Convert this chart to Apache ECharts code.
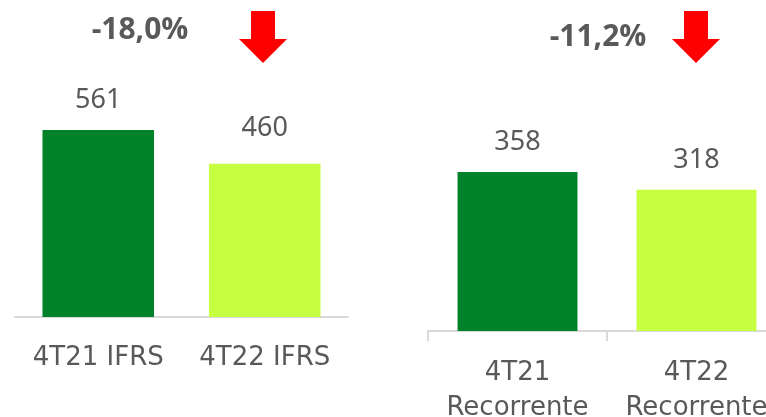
<!DOCTYPE html>
<html style="height: 100%">
<head>
    <meta charset="utf-8">
    <style>
        html, body {
            height: 100%;
            margin: 0;
            overflow: hidden;
            background: #fff;
        }
        #container {
            width: 766px;
            height: 417px;
        }
    </style>
</head>
<body>
<div id="container"></div>
<script src="https://cdn.jsdelivr.net/npm/echarts@6/dist/echarts.min.js"></script>
<script type="text/javascript">
// dados do grafico
var ifrsCategories = ['4T21 IFRS', '4T22 IFRS'];
var ifrsValues = [561, 460];
var recCategories = ['4T21\nRecorrente', '4T22\nRecorrente'];
var recValues = [358, 318];
var changeLabels = ['-18,0%', '-11,2%'];

var barColors = ['#00822A', '#C6FF42'];
var textGray = '#595959';

function toBarData(values, extraDist) {
    return values.map(function (v, i) {
        var item = { value: v, itemStyle: { color: barColors[i] } };
        if (extraDist && extraDist[i]) {
            item.label = { distance: extraDist[i] };
        }
        return item;
    });
}

// seta vermelha para baixo
function downArrow(cx) {
    return {
        type: 'polygon',
        shape: {
            points: [
                [cx - 12, 11], [cx + 12, 11], [cx + 12, 39], [cx + 24, 39],
                [cx, 63], [cx - 24, 39], [cx - 12, 39]
            ]
        },
        style: { fill: '#FF0000' }
    };
}

var dom = document.getElementById('container');
var myChart = echarts.init(dom, null, { renderer: 'canvas' });

var valueLabel = {
    show: true,
    position: 'top',
    distance: 16,
    color: textGray,
    fontFamily: 'Noto Sans',
    fontSize: 27
};

var option = {
    animation: false,
    grid: [
        { left: 15, width: 333, bottom: 100, height: 200, outerBoundsMode: 'none' },
        { left: 428, width: 358, bottom: 86, height: 200, outerBoundsMode: 'none' }
    ],
    xAxis: [
        {
            type: 'category',
            gridIndex: 0,
            data: ifrsCategories,
            axisLine: { lineStyle: { color: '#D9D9D9', width: 2 } },
            axisTick: { show: false },
            axisLabel: {
                interval: 0,
                margin: 28,
                color: textGray,
                fontFamily: 'DejaVu Sans',
                fontSize: 26
            }
        },
        {
            type: 'category',
            gridIndex: 1,
            data: recCategories,
            axisLine: { lineStyle: { color: '#D9D9D9', width: 2 } },
            axisTick: { show: true, length: 10, lineStyle: { color: '#D9D9D9', width: 2 } },
            axisLabel: {
                interval: 0,
                margin: 25,
                color: textGray,
                fontFamily: 'DejaVu Sans',
                fontSize: 26,
                lineHeight: 35
            }
        }
    ],
    yAxis: [
        { type: 'value', gridIndex: 0, min: 0, max: 600, show: false },
        { type: 'value', gridIndex: 1, min: 0, max: 450, show: false }
    ],
    series: [
        {
            type: 'bar',
            xAxisIndex: 0,
            yAxisIndex: 0,
            barWidth: '67%',
            data: toBarData(ifrsValues, [0, 22]),
            label: valueLabel
        },
        {
            type: 'bar',
            xAxisIndex: 1,
            yAxisIndex: 1,
            barWidth: '67%',
            data: toBarData(recValues),
            label: valueLabel
        }
    ],
    graphic: [
        {
            type: 'text',
            x: 140,
            y: 30,
            style: {
                text: changeLabels[0],
                fill: textGray,
                font: 'bold 30px "Open Sans"',
                align: 'center',
                verticalAlign: 'middle'
            }
        },
        {
            type: 'text',
            x: 598,
            y: 37,
            style: {
                text: changeLabels[1],
                fill: textGray,
                font: 'bold 30px "Open Sans"',
                align: 'center',
                verticalAlign: 'middle'
            }
        },
        downArrow(263),
        downArrow(696)
    ]
};

myChart.setOption(option);
window.addEventListener('resize', function () {
    myChart.resize();
});
</script>
</body>
</html>
